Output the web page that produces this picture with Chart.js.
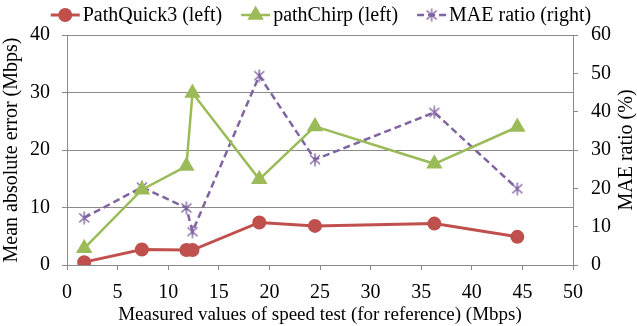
<!DOCTYPE html>
<html>
<head>
<meta charset="utf-8">
<script src="https://cdn.jsdelivr.net/npm/chart.js@4/dist/chart.umd.min.js"></script>
<style>
  html, body { margin: 0; padding: 0; background: #fff; }
  #wrap { width: 637px; height: 326px; }
</style>
</head>
<body>
<div id="wrap"><canvas id="c" width="637" height="326"></canvas></div>
<script>
// ---- data ----
const speedTest = [1.7, 7.4, 11.8, 12.4, 19.0, 24.5, 36.3, 44.5];
const pathQuick3 = [0.5, 2.7, 2.6, 2.6, 7.4, 6.8, 7.2, 4.9];
const pathChirp = [2.9, 13.1, 17.2, 29.9, 14.9, 24.1, 17.6, 24.0];
const maeRatio = [12.3, 20.3, 14.9, 8.7, 49.4, 27.5, 39.8, 19.9];
const seriesNames = ['PathQuick3 (left)', 'pathChirp (left)', 'MAE ratio (right)'];
const xTitle = 'Measured values of speed test (for reference) (Mbps)';
const yLeftTitle = 'Mean absolute error (Mbps)';
const yRightTitle = 'MAE ratio (%)';

const RED = '#C0504D', GREEN = '#9BBB59', PURPLE = '#8064A2', GRID = '#8a8a8a';
const FONT = '"Liberation Serif", "Times New Roman", serif';
const FS = 20;

function starMarker(color) {
  const c = document.createElement('canvas');
  c.width = 14; c.height = 14;
  const g = c.getContext('2d');
  g.strokeStyle = color; g.lineWidth = 1.4;
  g.beginPath();
  g.moveTo(2, 2.5); g.lineTo(12, 11.5);
  g.moveTo(12, 2.5); g.lineTo(2, 11.5);
  g.moveTo(7, 0.5); g.lineTo(7, 13.5);
  g.stroke();
  return c;
}
const purpleStar = starMarker(PURPLE);

const pts = (ys) => speedTest.map((x, i) => ({x: x, y: ys[i]}));

const customLegend = {
  id: 'customLegend',
  afterDraw(chart) {
    const ctx = chart.ctx;
    ctx.save();
    ctx.font = FS + 'px ' + FONT;
    ctx.textBaseline = 'middle';
    const lineLen = 29, gapText = 3, gapItem = 19, y = 15;
    const ds = chart.data.datasets;
    const widths = ds.map(d => lineLen + gapText + ctx.measureText(d.label).width);
    const total = widths.reduce((a, b) => a + b, 0) + gapItem * (ds.length - 1);
    let x = 321 - total / 2;
    ds.forEach((d, i) => {
      ctx.strokeStyle = d.borderColor;
      ctx.lineWidth = d.borderWidth;
      ctx.setLineDash(d.borderDash || []);
      ctx.beginPath(); ctx.moveTo(x, y); ctx.lineTo(x + lineLen, y); ctx.stroke();
      ctx.setLineDash([]);
      ctx.fillStyle = d.pointBackgroundColor || d.borderColor;
      ctx.strokeStyle = d.borderColor;
      Chart.helpers.drawPoint(ctx, {
        pointStyle: d.pointStyle, radius: d.pointRadius, borderWidth: 1, rotation: 0
      }, x + lineLen / 2, y);
      ctx.fillStyle = '#000';
      ctx.fillText(d.label, x + lineLen + gapText, y + 1);
      x += widths[i] + gapItem;
    });
    // right axis title, reading bottom to top
    const a = chart.chartArea;
    ctx.translate(627, (a.top + a.bottom) / 2);
    ctx.rotate(-Math.PI / 2);
    ctx.textAlign = 'center';
    ctx.fillText(yRightTitle, 0, 0);
    ctx.restore();
  }
};

new Chart(document.getElementById('c'), {
  type: 'line',
  data: {
    datasets: [
      { label: seriesNames[0], data: pts(pathQuick3), yAxisID: 'y',
        borderColor: RED, backgroundColor: RED, pointBackgroundColor: RED, pointBorderColor: RED,
        borderWidth: 3, pointStyle: 'circle', pointRadius: 5.5, tension: 0 },
      { label: seriesNames[1], data: pts(pathChirp), yAxisID: 'y',
        borderColor: GREEN, backgroundColor: GREEN, pointBackgroundColor: GREEN, pointBorderColor: GREEN,
        borderWidth: 2.5, pointStyle: 'triangle', pointRadius: 7, tension: 0 },
      { label: seriesNames[2], data: pts(maeRatio), yAxisID: 'y1',
        borderColor: PURPLE, backgroundColor: PURPLE, pointBorderColor: PURPLE,
        borderWidth: 2.5, borderDash: [7, 4], pointStyle: purpleStar, pointRadius: 7, tension: 0 }
    ]
  },
  options: {
    responsive: false,
    animation: false,
    layout: { padding: { top: 35, left: 0, right: 0, bottom: 0 } },
    plugins: { legend: { display: false }, tooltip: { enabled: false } },
    scales: {
      x: {
        type: 'linear', min: 0, max: 50,
        ticks: { stepSize: 5, color: '#000', font: { family: FONT, size: FS }, padding: 11, maxRotation: 0 },
        grid: { drawOnChartArea: false, drawTicks: true, tickLength: 5, color: GRID },
        border: { color: GRID, width: 1 },
        title: { display: true, text: xTitle, color: '#000', font: { family: FONT, size: 19 }, padding: 0 },
        afterFit(s) { s.height = 61; }
      },
      y: {
        type: 'linear', position: 'left', min: 0, max: 40,
        ticks: { stepSize: 10, color: '#000', font: { family: FONT, size: FS }, padding: 12 },
        grid: { color: GRID, tickLength: 5 },
        border: { color: GRID, width: 1 },
        title: { display: true, text: yLeftTitle, color: '#000', font: { family: FONT, size: FS }, padding: 0 },
        afterFit(s) { s.width = 67; }
      },
      y1: {
        type: 'linear', position: 'right', min: 0, max: 60,
        ticks: { stepSize: 10, color: '#000', font: { family: FONT, size: FS }, padding: 13 },
        grid: { drawOnChartArea: false, tickLength: 5, color: GRID },
        border: { color: GRID, width: 1 },
        title: { display: false, text: yRightTitle },
        afterFit(s) { s.width = 64; }
      }
    }
  },
  plugins: [customLegend]
});
</script>
</body>
</html>
